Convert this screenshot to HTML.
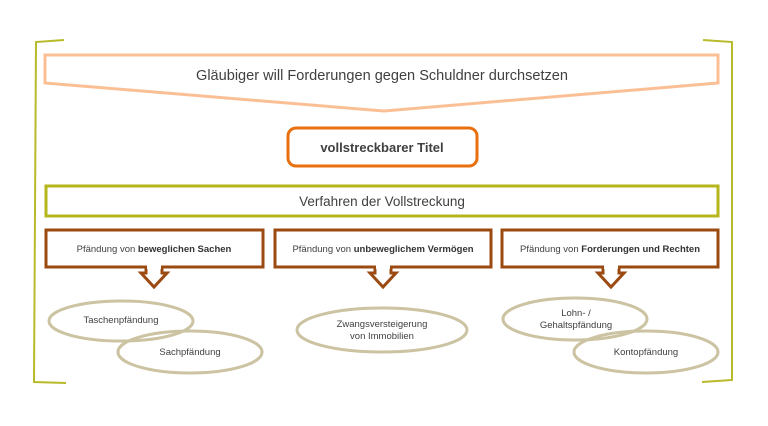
<!DOCTYPE html>
<html><head><meta charset="utf-8"><style>
html,body{margin:0;padding:0;background:#fff;}
svg text{font-family:"Liberation Sans",sans-serif;fill:#404040;}
</style></head><body>
<svg width="768" height="421" viewBox="0 0 768 421" xmlns="http://www.w3.org/2000/svg">
<g fill="none" stroke="#b8ba2a" stroke-width="2">
<path d="M64 40 L36 42 L34 382 L66 383"/>
<path d="M703 40 L732 42 L732 380 L702 382"/>
</g>
<polygon points="45,55 718,55 718,83 384,111 45,83" fill="#fff" stroke="#fbbf96" stroke-width="3"/>
<text x="382" y="80" text-anchor="middle" font-size="14.5" textLength="372" lengthAdjust="spacingAndGlyphs">Gläubiger will Forderungen gegen Schuldner durchsetzen</text>
<rect x="288" y="128" width="189" height="38" rx="8" fill="#fff" stroke="#e8700f" stroke-width="3"/>
<text x="382" y="152" text-anchor="middle" font-size="13" font-weight="bold" fill="#333">vollstreckbarer  Titel</text>
<rect x="46" y="186" width="672" height="30" fill="#fff" stroke="#b5b51c" stroke-width="3"/>
<text x="382" y="206" text-anchor="middle" font-size="13.5">Verfahren der Vollstreckung</text>
<g fill="#fff" stroke="#9b4a12" stroke-width="3">
<rect x="46" y="230" width="217" height="37"/>
<rect x="275" y="230" width="216" height="37"/>
<rect x="502" y="230" width="216" height="37"/>
<polygon points="146,267 146,273 141,273 154,287 167,273 162,273 162,267"/>
<polygon points="375,267 375,273 370,273 383,287 396,273 391,273 391,267"/>
<polygon points="603,267 603,273 598,273 611,287 624,273 619,273 619,267"/>
</g>
<g fill="#fff" stroke="#fff" stroke-width="4">
<line x1="147" y1="267" x2="161" y2="267"/>
<line x1="376" y1="267" x2="390" y2="267"/>
<line x1="604" y1="267" x2="618" y2="267"/>
</g>
<g font-size="9.5" text-anchor="middle">
<text x="154" y="252">Pfändung von <tspan font-weight="bold" fill="#333">beweglichen Sachen</tspan></text>
<text x="383" y="252">Pfändung von <tspan font-weight="bold" fill="#333">unbeweglichem Vermögen</tspan></text>
<text x="610" y="252">Pfändung von <tspan font-weight="bold" fill="#333">Forderungen und Rechten</tspan></text>
</g>
<g fill="none" stroke="#cbc3a1" stroke-width="3">
<ellipse cx="121" cy="321" rx="72" ry="20"/>
<ellipse cx="190" cy="352" rx="72" ry="21"/>
<ellipse cx="382" cy="330" rx="85" ry="22"/>
<ellipse cx="575" cy="319" rx="72" ry="21"/>
<ellipse cx="646" cy="352" rx="72" ry="21"/>
</g>
<g font-size="9.5" text-anchor="middle">
<text x="121" y="323">Taschenpfändung</text>
<text x="190" y="355">Sachpfändung</text>
<text x="382" y="327">Zwangsversteigerung</text>
<text x="382" y="339">von Immobilien</text>
<text x="576" y="316">Lohn- /</text>
<text x="576" y="328">Gehaltspfändung</text>
<text x="646" y="355">Kontopfändung</text>
</g>
</svg>
</body></html>
